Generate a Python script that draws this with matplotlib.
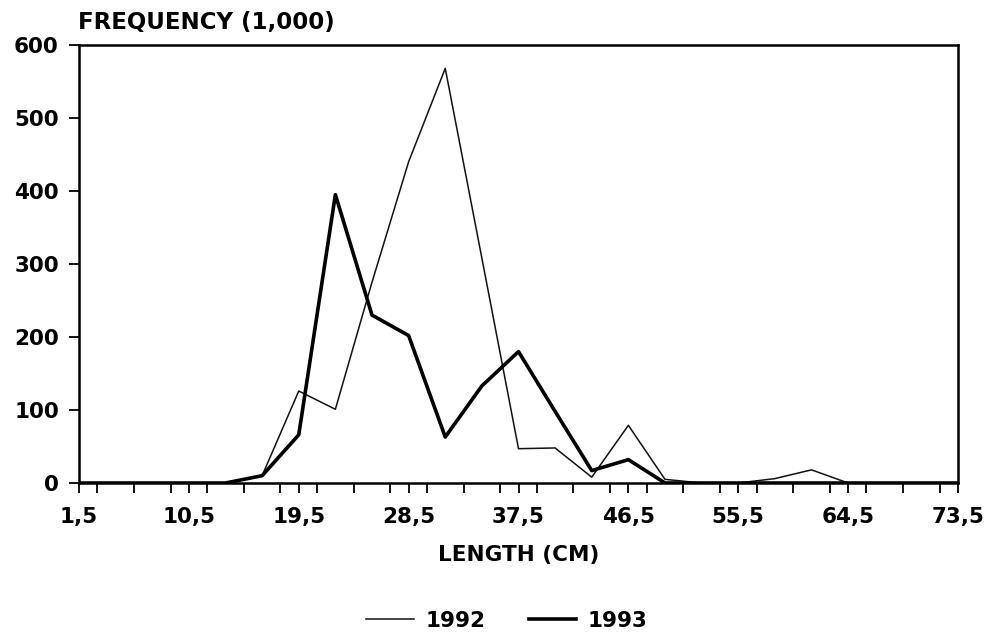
import matplotlib
matplotlib.use("Agg")
import matplotlib.pyplot as plt
from matplotlib.ticker import FixedLocator, MultipleLocator

# ---- data ----
length_cm = [1.5, 4.5, 7.5, 10.5, 13.5, 16.5, 19.5, 22.5, 25.5, 28.5, 31.5, 34.5, 37.5,
             40.5, 43.5, 46.5, 49.5, 52.5, 55.5, 58.5, 61.5, 64.5, 67.5, 70.5, 73.5]
freq_1992 = [0, 0, 0, 0, 0, 10, 126, 101, 275, 440, 568, 308, 47,
             48, 8, 79, 5, 0, 0, 6, 18, 0, 0, 0, 0]
freq_1993 = [0, 0, 0, 0, 0, 10, 66, 395, 230, 202, 63, 133, 180,
             98, 17, 32, 0, 0, 0, 0, 0, 0, 0, 0, 0]
x_ticks = [1.5, 10.5, 19.5, 28.5, 37.5, 46.5, 55.5, 64.5, 73.5]
x_tick_labels = ["1,5", "10,5", "19,5", "28,5", "37,5", "46,5", "55,5", "64,5", "73,5"]
y_ticks = [0, 100, 200, 300, 400, 500, 600]
y_tick_labels = ["0", "100", "200", "300", "400", "500", "600"]
series_labels = ["1992", "1993"]

plt.rcParams['font.family'] = ['DejaVu Sans']
plt.rcParams['font.weight'] = 'bold'
FS = 15.5

fig = plt.figure(figsize=(9.92, 6.36), dpi=100)
ax = fig.add_axes([79/992, 1-483/636, (958-79)/992, (483-45)/636])

ax.plot(length_cm, freq_1992, color='#111111', lw=1.1, label=series_labels[0])
ax.plot(length_cm, freq_1993, color='black', lw=2.6, label=series_labels[1])

ax.set_xlim(1.5, 73.5)
ax.set_ylim(0, 600)
ax.xaxis.set_major_locator(FixedLocator(x_ticks))
ax.set_xticklabels(x_tick_labels)
ax.xaxis.set_minor_locator(MultipleLocator(3))
ax.yaxis.set_major_locator(FixedLocator(y_ticks))
ax.set_yticklabels(y_tick_labels)

for s in ax.spines.values():
    s.set_linewidth(1.8)
ax.tick_params(axis='x', which='both', direction='out', length=7.5, width=1.3,
               labelsize=FS, pad=10)
ax.tick_params(axis='y', which='major', direction='out', length=7.5, width=1.3,
               labelsize=FS, pad=7)
for lab in ax.get_xticklabels() + ax.get_yticklabels():
    lab.set_fontweight('bold')

ax.set_xlabel("LENGTH (CM)", fontsize=FS, fontweight='bold')
ax.xaxis.set_label_coords(0.5, -(545-483)/438)

fig.text(78/992, 1-22/636, "FREQUENCY (1,000)", ha='left', va='center',
         fontsize=16.5, fontweight='bold')

fig.legend(loc='center', bbox_to_anchor=(507/992, 1-621/636), ncol=2, frameon=False,
           handlelength=2.2, handletextpad=0.55, columnspacing=2.0,
           prop={'weight': 'bold', 'size': FS})

fig.savefig("out.png", dpi=100)
